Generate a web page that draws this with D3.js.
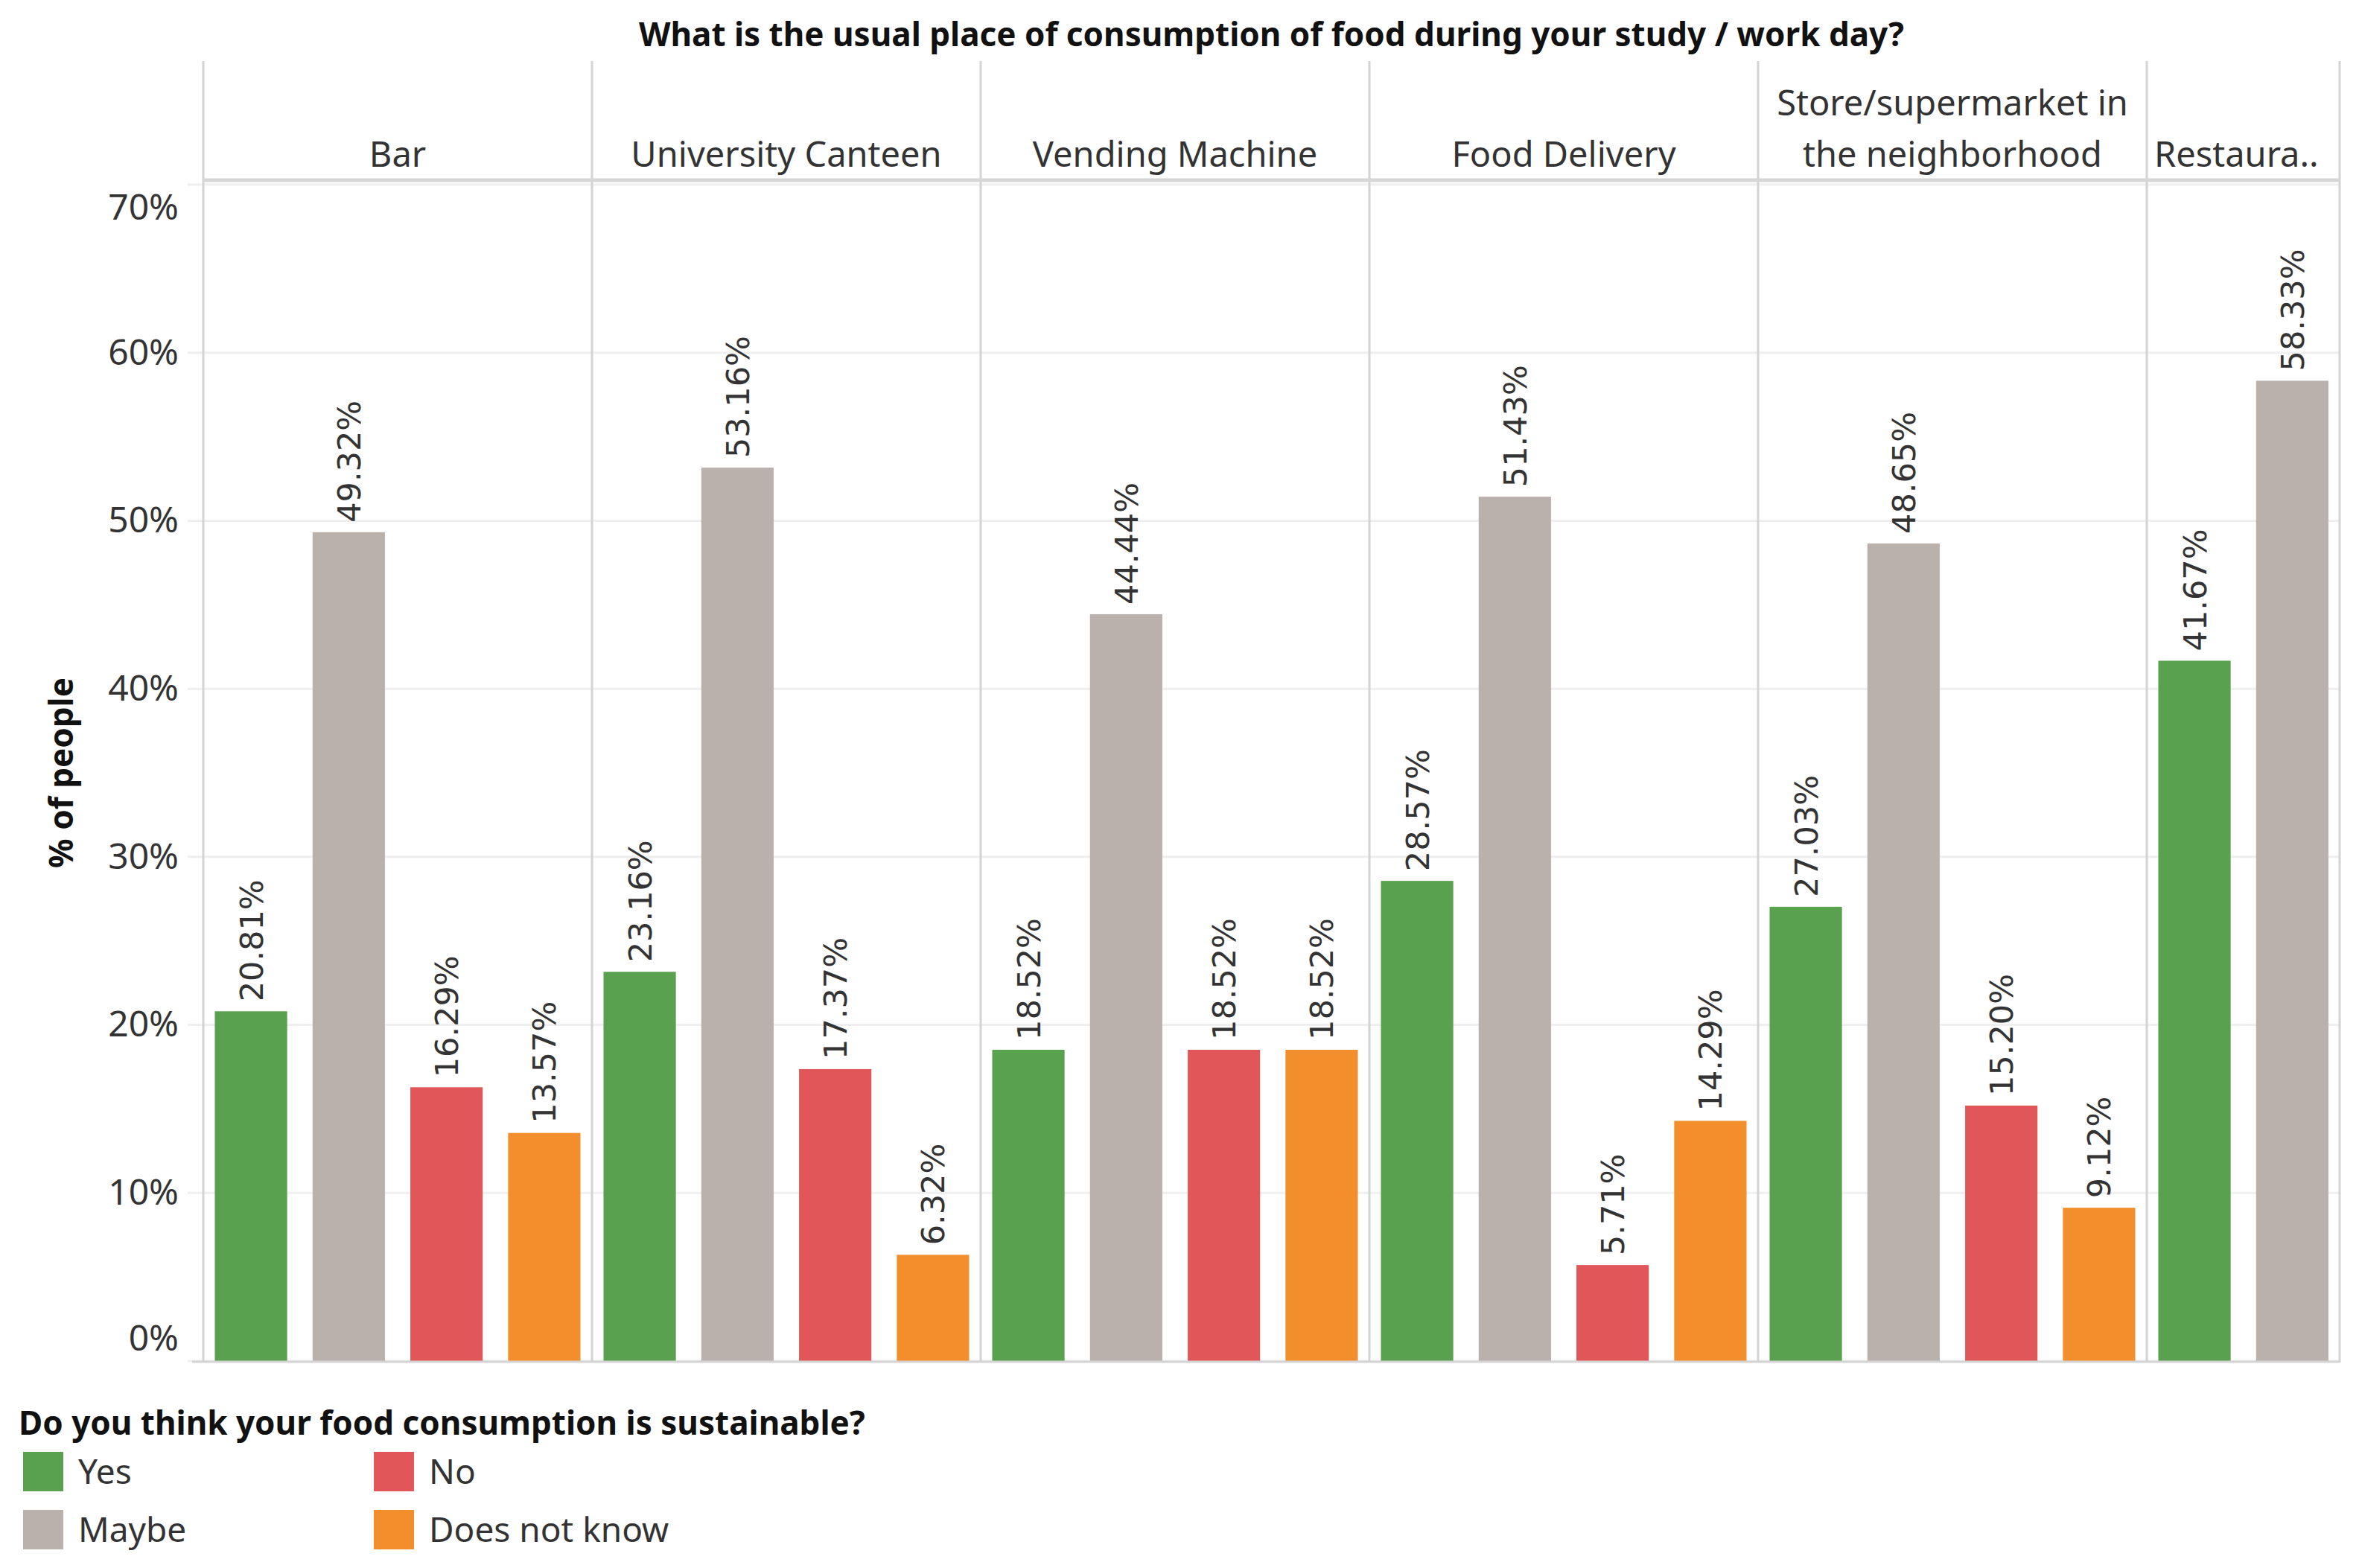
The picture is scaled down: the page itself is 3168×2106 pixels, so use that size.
<!DOCTYPE html>
<html>
<head>
<meta charset="utf-8">
<script src="https://cdn.jsdelivr.net/npm/d3@7"></script>
<style>
  body { margin: 0; background: #fff; }
  text { font-family: "Noto Sans", "Open Sans", sans-serif; fill: #333; }
</style>
</head>
<body>
<svg id="chart" width="3168" height="2106"></svg>
<script>
// places (panels) and the header text shown for each
var places = ["Bar", "University Canteen", "Vending Machine", "Food Delivery",
  "Store/supermarket in the neighborhood", "Restaurant"];
var headerLabels = [["Bar"], ["University Canteen"], ["Vending Machine"], ["Food Delivery"],
  ["Store/supermarket in", "the neighborhood"], ["Restaura.."]];

var answers = ["Yes", "Maybe", "No", "Does not know"];
var answerColors = ["#59a14f", "#bab0ac", "#e15759", "#f28e2b"];

// % of people, one value per place (restaurant panel is cut off after Maybe)
var yesValues   = [20.81, 23.16, 18.52, 28.57, 27.03, 41.67];
var maybeValues = [49.32, 53.16, 44.44, 51.43, 48.65, 58.33];
var noValues    = [16.29, 17.37, 18.52,  5.71, 15.20, null];
var dnkValues   = [13.57,  6.32, 18.52, 14.29,  9.12, null];

var yTicks = [0, 10, 20, 30, 40, 50, 60, 70];

var title = "What is the usual place of consumption of food during your study / work day?";
var yTitle = "% of people";
var legendTitle = "Do you think your food consumption is sustainable?";

var seriesValues = [yesValues, maybeValues, noValues, dnkValues];
var rows = [];
places.forEach(function(p, i) {
  answers.forEach(function(a, j) {
    var v = seriesValues[j][i];
    if (v != null) rows.push({place: p, answer: a, value: v, color: answerColors[j]});
  });
});

var svg = d3.select("#chart");

var leftX = 273, rightX = 3142, topY = 82, headerBottom = 242, bottomY = 1828;
var panelW = 522;

var xPanel = d3.scaleBand()
  .domain(places)
  .range([leftX, leftX + panelW * places.length]);

var xBar = d3.scaleBand()
  .domain(answers)
  .range([0, panelW])
  .paddingInner(0.26)
  .paddingOuter(0.118);

var y = d3.scaleLinear()
  .domain([0, 70])
  .range([bottomY, 248]);

svg.append("defs").append("clipPath").attr("id", "clip")
  .append("rect")
    .attr("x", leftX).attr("y", 0)
    .attr("width", rightX - leftX).attr("height", 2106);

// title
svg.append("text")
  .attr("x", (leftX + rightX) / 2)
  .attr("y", 62)
  .attr("text-anchor", "middle")
  .style("font-size", "44px")
  .style("font-weight", "bold")
  .style("fill", "#111")
  .text(title);

// gridlines
svg.append("g")
  .selectAll("line")
  .data(yTicks)
  .enter().append("line")
    .attr("x1", leftX - 21)
    .attr("x2", rightX)
    .attr("y1", function(d) { return y(d); })
    .attr("y2", function(d) { return y(d); })
    .attr("stroke", "#efefef")
    .attr("stroke-width", 3);

// y axis labels
var yAxis = d3.axisLeft(y)
  .tickValues(yTicks)
  .tickFormat(function(d) { return d + "%"; })
  .tickSize(0)
  .tickPadding(33);

var ga = svg.append("g")
  .attr("transform", "translate(" + leftX + ",0)")
  .call(yAxis);
ga.select(".domain").remove();
ga.selectAll("text")
  .style("font-size", "48px")
  .style("font-family", "'Noto Sans', sans-serif")
  .style("fill", "#333")
  .attr("y", function(d) {
    // end labels are kept inside the axis range
    if (d === yTicks[yTicks.length - 1]) return 31;
    if (d === yTicks[0]) return -30;
    return 0;
  });

// y title
svg.append("text")
  .attr("transform", "translate(98," + (y(35)) + ") rotate(-90)")
  .attr("text-anchor", "middle")
  .style("font-size", "44px")
  .style("font-weight", "bold")
  .style("fill", "#111")
  .text(yTitle);

var plot = svg.append("g").attr("clip-path", "url(#clip)");

// panel header labels
var headers = plot.selectAll("g.header")
  .data(places)
  .enter().append("g")
    .attr("class", "header");

headers.each(function(p, i) {
  var lines = headerLabels[i];
  var truncated = lines[0].slice(-2) === "..";
  var tx = truncated ? xPanel(p) + 10 : xPanel(p) + panelW / 2;
  var t = d3.select(this).append("text")
    .attr("x", tx)
    .attr("text-anchor", truncated ? "start" : "middle")
    .style("font-size", "47px");
  lines.forEach(function(line, k) {
    t.append("tspan")
      .attr("x", tx)
      .attr("y", 224 - (lines.length - 1 - k) * 69)
      .text(line);
  });
});

// bars
plot.selectAll("rect.bar")
  .data(rows)
  .enter().append("rect")
    .attr("class", "bar")
    .attr("x", function(d) { return xPanel(d.place) + xBar(d.answer); })
    .attr("y", function(d) { return y(d.value); })
    .attr("width", xBar.bandwidth())
    .attr("height", function(d) { return bottomY - y(d.value); })
    .attr("fill", function(d) { return d.color; });

// bar value labels
plot.selectAll("text.val")
  .data(rows)
  .enter().append("text")
    .attr("class", "val")
    .attr("transform", function(d) {
      var cx = xPanel(d.place) + xBar(d.answer) + xBar.bandwidth() / 2;
      return "translate(" + cx + "," + (y(d.value) - 13) + ") rotate(-90)";
    })
    .attr("dy", "0.36em")
    .style("font-family", "'DejaVu Sans', sans-serif")
    .style("font-size", "43px")
    .style("fill", "#333")
    .text(function(d) { return d.value.toFixed(2) + "%"; });

// panel borders
var borderX = places.map(function(p) { return xPanel(p); }).concat([rightX]);
svg.append("g")
  .selectAll("line")
  .data(borderX)
  .enter().append("line")
    .attr("x1", function(d) { return d; })
    .attr("x2", function(d) { return d; })
    .attr("y1", topY)
    .attr("y2", bottomY + 2)
    .attr("stroke", "#d4d4d4")
    .attr("stroke-width", 3);

// header separator and baseline
svg.append("line")
  .attr("x1", leftX).attr("x2", rightX)
  .attr("y1", headerBottom).attr("y2", headerBottom)
  .attr("stroke", "#d6d6d6").attr("stroke-width", 5);
svg.append("line")
  .attr("x1", leftX - 15).attr("x2", rightX)
  .attr("y1", bottomY + 1).attr("y2", bottomY + 1)
  .attr("stroke", "#d4d4d4").attr("stroke-width", 3);

// legend
svg.append("text")
  .attr("x", 25)
  .attr("y", 1927)
  .style("font-size", "44px")
  .style("font-weight", "bold")
  .style("fill", "#111")
  .text(legendTitle);

var legend = svg.append("g")
  .selectAll("g")
  .data(answers)
  .enter().append("g")
    .attr("transform", function(d, i) {
      var col = i < 2 ? 0 : 1, row = i % 2;
      return "translate(" + (31 + col * 471) + "," + (1950 + row * 78) + ")";
    });
legend.append("rect")
  .attr("width", 54)
  .attr("height", 53)
  .attr("fill", function(d, i) { return answerColors[i]; });
legend.append("text")
  .attr("x", 74)
  .attr("y", 27)
  .attr("dy", "0.35em")
  .style("font-size", "46px")
  .text(function(d) { return d; });
</script>
</body>
</html>
